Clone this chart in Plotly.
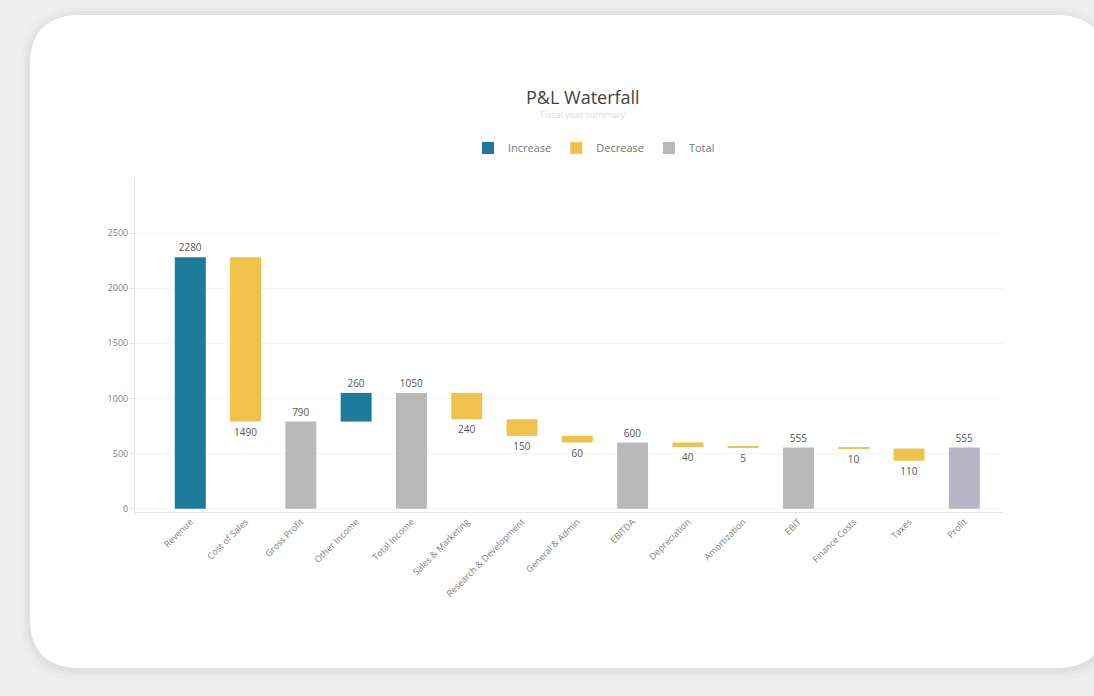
import plotly.graph_objects as go

# ---------------- data ----------------
categories = ["Revenue", "Cost of Sales", "Gross Profit", "Other Income", "Total Income",
              "Sales & Marketing", "Research & Development", "General & Admin", "EBITDA",
              "Depreciation", "Amortization", "EBIT", "Finance Costs", "Taxes", "Profit"]
measures = ["increase", "decrease", "total", "increase", "total",
            "decrease", "decrease", "decrease", "total",
            "decrease", "decrease", "total", "decrease", "decrease", "total"]
amounts = [2280, 1490, 790, 260, 1050, 240, 150, 60, 600, 40, 5, 555, 10, 110, 555]

COL_INC = "#1c7a9a"
COL_DEC = "#f0c24b"
COL_TOT = "#b9b9b9"
COL_LAST = "#b8b6c6"

# ---------------- layout geometry (pixels) ----------------
W, H = 1094, 696
L, R, T, B = 135, 1003, 179, 512
PW, PH = R - L, B - T


def px(x):
    return (x - L) / PW


def py(y):
    return (B - y) / PH


def P(x, y):
    return f"{px(x):.5f},{py(y):.5f}"


def rounded(x0, y0, x1, y1, r):
    return (f"M {P(x0 + r, y0)} L {P(x1 - r, y0)} Q {P(x1, y0)} {P(x1, y0 + r)} "
            f"L {P(x1, y1 - r)} Q {P(x1, y1)} {P(x1 - r, y1)} "
            f"L {P(x0 + r, y1)} Q {P(x0, y1)} {P(x0, y1 - r)} "
            f"L {P(x0, y0 + r)} Q {P(x0, y0)} {P(x0 + r, y0)} Z")


# ---------------- build bar segments ----------------
inc = dict(x=[], y=[], base=[], text=[])
dec = dict(x=[], y=[], base=[], text=[])
tot = dict(x=[], y=[], base=[], text=[], color=[])
running = 0
for i, (c, m, v) in enumerate(zip(categories, measures, amounts)):
    if m == "increase":
        inc["x"].append(c); inc["base"].append(running); inc["y"].append(v); inc["text"].append(str(v))
        running += v
    elif m == "decrease":
        dec["x"].append(c); dec["base"].append(running); dec["y"].append(-v); dec["text"].append(str(v))
        running -= v
    else:
        tot["x"].append(c); tot["base"].append(0); tot["y"].append(v); tot["text"].append(str(v))
        tot["color"].append(COL_LAST if i == len(categories) - 1 else COL_TOT)
        running = v

fig = go.Figure()
txtfont = dict(size=10, color="#555555", family="Open Sans")
fig.add_trace(go.Bar(name="Increase", x=inc["x"], y=inc["y"], base=inc["base"], text=inc["text"],
                     textposition="outside", textfont=txtfont, cliponaxis=False,
                     marker=dict(color=COL_INC, line=dict(width=0))))
fig.add_trace(go.Bar(name="Decrease", x=dec["x"], y=dec["y"], base=dec["base"], text=dec["text"],
                     textposition="outside", textfont=txtfont, cliponaxis=False,
                     marker=dict(color=COL_DEC, line=dict(width=0))))
fig.add_trace(go.Bar(name="Total", x=tot["x"], y=tot["y"], base=tot["base"], text=tot["text"],
                     textposition="outside", textfont=txtfont, cliponaxis=False,
                     marker=dict(color=tot["color"], line=dict(width=0))))

shapes = []
# soft shadow layers
for k, a in [(10, 0.012), (6, 0.018), (3, 0.025)]:
    shapes.append(dict(type="path", xref="paper", yref="paper", layer="below",
                       path=rounded(30 - k, 15 - k + 2, 1106 + k, 668 + k + 2, 50 + k),
                       fillcolor=f"rgba(0,0,0,{a})", line=dict(width=0)))
shapes.append(dict(type="path", xref="paper", yref="paper", layer="below",
                   path=rounded(30, 15, 1106, 668, 50),
                   fillcolor="#ffffff", line=dict(width=0)))

annotations = [
    dict(text="P&L Waterfall", xref="paper", yref="paper", x=px(583), y=py(97),
         showarrow=False, font=dict(size=18, color="#444444", family="Open Sans"),
         xanchor="center", yanchor="middle"),
    dict(text="Fiscal year summary", xref="paper", yref="paper", x=px(583), y=py(115),
         showarrow=False, font=dict(size=9, color="#dddddd", family="Open Sans"),
         xanchor="center", yanchor="middle"),
]

fig.update_layout(
    width=W, height=H,
    margin=dict(l=L, r=W - R, t=T, b=H - B, pad=0),
    paper_bgcolor="#eeeeee",
    plot_bgcolor="rgba(0,0,0,0)",
    barmode="overlay",
    bargap=0.44,
    font=dict(family="Open Sans", color="#777777"),
    showlegend=True,
    legend=dict(orientation="h", x=px(594), y=py(148), xanchor="center", yanchor="middle",
                font=dict(size=11, color="#777777"), bgcolor="rgba(0,0,0,0)",
                itemwidth=30, traceorder="normal"),
    shapes=shapes,
    annotations=annotations,
    xaxis=dict(type="category", categoryorder="array", categoryarray=categories,
               range=[-1.0, 14.7], tickangle=-45, tickfont=dict(size=9, color="#808080"),
               showline=True, linecolor="#e6e6e6", linewidth=1, showgrid=False,
               ticks="", zeroline=False),
    yaxis=dict(range=[-30, 2990], dtick=500, tickfont=dict(size=9, color="#808080"),
               showline=True, linecolor="#e3e3e3", linewidth=1,
               ticks="outside", ticklen=4, tickcolor="#e3e3e3",
               showgrid=True, gridcolor="#f4f4f4", zeroline=False),
)

fig.write_html("out.html",
               config={"displayModeBar": False},
               post_script="document.body.style.margin='0';document.body.style.padding='0';"
                           "document.documentElement.style.overflow='hidden';")
